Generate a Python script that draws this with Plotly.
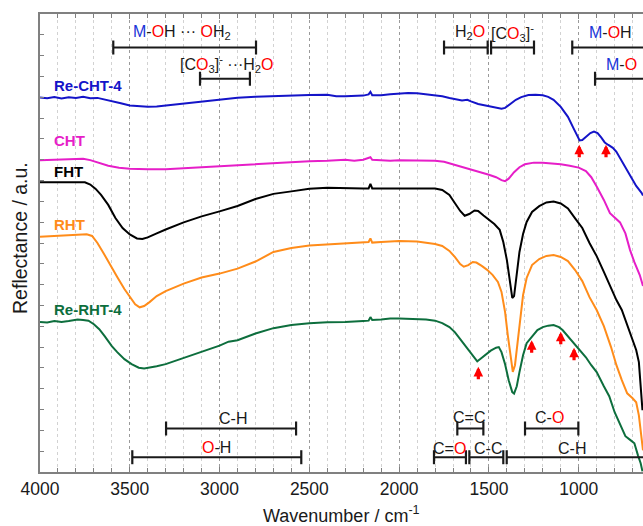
import plotly.graph_objects as go

FONT = "Liberation Sans, Arial, sans-serif"

# ---------------- spectra (wavenumber / cm-1, reflectance in a.u., offset) ----------------
wn_recht4 = [4000, 3960, 3920, 3880, 3840, 3800, 3760, 3720, 3680, 3640, 3600, 3550, 3500, 3450,
             3400, 3350, 3300, 3200, 3100, 3000, 2900, 2800, 2700, 2600, 2500, 2400, 2350, 2300,
             2250, 2200, 2170, 2160, 2150, 2100, 2050, 2000, 1950, 1900, 1850, 1800, 1760, 1720,
             1680, 1650, 1620, 1600, 1560, 1520, 1480, 1450, 1430, 1410, 1380, 1350, 1320, 1280,
             1240, 1200, 1170, 1140, 1100, 1060, 1030, 1010, 995, 980, 960, 935, 915, 895, 875,
             855, 835, 810, 790, 770, 740, 710, 680, 650, 642]
r_recht4 = [17.99, 17.95, 18.01, 17.94, 18.00, 17.97, 18.02, 17.95, 17.97, 17.90, 17.83, 17.71,
            17.61, 17.56, 17.54, 17.56, 17.61, 17.71, 17.80, 17.90, 17.98, 18.02, 18.06, 18.09,
            18.11, 18.12, 18.05, 18.05, 18.07, 18.08, 18.14, 18.26, 18.10, 18.10, 18.14, 18.19,
            18.21, 18.19, 18.14, 18.11, 18.05, 17.97, 17.90, 17.85, 17.88, 17.80, 17.68, 17.61,
            17.56, 17.49, 17.45, 17.49, 17.68, 17.88, 18.01, 18.11, 18.12, 18.10, 18.02, 17.88,
            17.54, 17.06, 16.53, 16.14, 15.93, 15.95, 16.11, 16.28, 16.35, 16.28, 16.07, 15.83,
            15.71, 15.57, 15.38, 15.09, 14.61, 14.17, 13.74, 13.41, 13.28]

wn_cht = [4000, 3900, 3800, 3760, 3720, 3680, 3620, 3560, 3500, 3400, 3300, 3200, 3100, 3000,
          2900, 2800, 2700, 2600, 2500, 2400, 2350, 2300, 2250, 2200, 2160, 2150, 2100, 2050,
          2000, 1900, 1800, 1750, 1700, 1650, 1600, 1550, 1500, 1460, 1430, 1410, 1390, 1360,
          1330, 1300, 1250, 1200, 1150, 1100, 1050, 1000, 960, 930, 900, 860, 826, 790, 770,
          740, 714, 690, 660, 642]
r_cht = [14.98, 15.01, 15.03, 15.05, 14.98, 14.86, 14.71, 14.62, 14.57, 14.54, 14.54, 14.59,
         14.64, 14.69, 14.73, 14.78, 14.83, 14.88, 14.93, 14.95, 14.98, 15.00, 14.95, 15.00,
         15.12, 15.00, 14.98, 14.95, 14.98, 14.98, 14.95, 14.90, 14.78, 14.64, 14.52, 14.40,
         14.28, 14.16, 14.02, 13.97, 14.09, 14.40, 14.64, 14.78, 14.86, 14.85, 14.83, 14.78,
         14.71, 14.62, 14.45, 14.16, 13.71, 13.07, 12.43, 12.15, 11.99, 11.46, 10.66, 10.08,
         9.46, 8.93]

wn_fht = [4000, 3900, 3800, 3750, 3720, 3690, 3660, 3620, 3580, 3540, 3500, 3460, 3430, 3400,
          3350, 3300, 3200, 3100, 3000, 2900, 2800, 2700, 2600, 2500, 2400, 2300, 2200, 2170,
          2160, 2150, 2100, 2050, 2000, 1900, 1800, 1760, 1720, 1690, 1660, 1635, 1610, 1580,
          1560, 1530, 1500, 1470, 1440, 1420, 1400, 1385, 1370, 1360, 1345, 1330, 1310, 1290,
          1260, 1220, 1180, 1140, 1100, 1060, 1020, 980, 940, 900, 860, 820, 790, 760, 730,
          700, 680, 665, 655, 645]
r_fht = [13.92, 13.92, 13.93, 13.92, 13.81, 13.60, 13.31, 12.83, 12.20, 11.72, 11.41, 11.22,
         11.19, 11.27, 11.46, 11.65, 11.99, 12.28, 12.52, 12.78, 13.11, 13.36, 13.48, 13.60,
         13.65, 13.62, 13.62, 13.62, 13.84, 13.62, 13.62, 13.65, 13.65, 13.64, 13.62, 13.55,
         13.31, 12.92, 12.54, 12.31, 12.39, 12.56, 12.54, 12.32, 12.13, 11.91, 11.63, 11.05,
         10.18, 9.22, 8.36, 8.45, 9.41, 10.57, 11.43, 12.01, 12.49, 12.77, 12.95, 12.99, 12.90,
         12.66, 12.18, 11.72, 11.00, 10.37, 9.61, 8.84, 8.26, 7.78, 7.06, 6.34, 5.86, 5.28,
         4.17, 2.97]

wn_rht = [4000, 3900, 3800, 3740, 3710, 3680, 3650, 3610, 3570, 3530, 3500, 3470, 3445, 3420,
          3390, 3350, 3300, 3200, 3100, 3000, 2900, 2800, 2700, 2600, 2500, 2400, 2300, 2200,
          2170, 2160, 2150, 2100, 2050, 2000, 1900, 1800, 1760, 1720, 1690, 1660, 1640, 1615,
          1590, 1570, 1540, 1510, 1480, 1450, 1430, 1410, 1395, 1380, 1367, 1355, 1340, 1325,
          1310, 1290, 1260, 1220, 1180, 1140, 1100, 1060, 1020, 980, 940, 900, 860, 820, 790,
          760, 730, 700, 680, 665, 652, 642]
r_rht = [11.30, 11.34, 11.37, 11.42, 11.34, 11.00, 10.57, 9.94, 9.37, 8.79, 8.40, 8.06, 7.91,
         7.97, 8.16, 8.45, 8.69, 9.05, 9.34, 9.53, 9.77, 10.11, 10.57, 10.76, 10.88, 10.94,
         10.98, 11.05, 11.05, 11.22, 11.02, 11.05, 11.07, 11.10, 11.07, 10.95, 10.86, 10.62,
         10.33, 9.99, 9.86, 9.94, 10.09, 10.06, 9.90, 9.71, 9.47, 9.13, 8.65, 7.68, 6.58, 5.47,
         4.81, 5.13, 6.33, 7.39, 8.50, 9.32, 9.94, 10.23, 10.38, 10.42, 10.33, 10.13, 9.70,
         9.17, 8.40, 7.78, 7.01, 6.00, 5.13, 4.41, 3.78, 3.54, 3.35, 2.72, 1.77, 1.04]

wn_rerht4 = [4000, 3960, 3920, 3880, 3840, 3800, 3790, 3760, 3730, 3700, 3670, 3640, 3600, 3570,
             3530, 3490, 3450, 3420, 3390, 3350, 3300, 3200, 3100, 3000, 2950, 2900, 2800, 2700,
             2600, 2500, 2400, 2300, 2200, 2170, 2160, 2150, 2100, 2050, 2000, 1950, 1900, 1850,
             1800, 1760, 1720, 1690, 1660, 1630, 1600, 1580, 1565, 1550, 1520, 1490, 1460, 1445,
             1430, 1410, 1390, 1370, 1360, 1345, 1330, 1310, 1290, 1270, 1255, 1230, 1200, 1170,
             1140, 1110, 1090, 1070, 1040, 1015, 990, 960, 930, 900, 860, 830, 800, 770, 740,
             710, 690, 670, 655, 645]
r_rerht4 = [7.21, 7.18, 7.25, 7.20, 7.25, 7.30, 7.33, 7.30, 7.27, 7.10, 6.86, 6.53, 6.05, 5.76,
            5.42, 5.18, 5.01, 4.97, 5.01, 5.08, 5.18, 5.47, 5.76, 6.07, 6.26, 6.33, 6.65, 6.91,
            7.06, 7.15, 7.19, 7.20, 7.25, 7.27, 7.44, 7.30, 7.32, 7.37, 7.37, 7.36, 7.35, 7.32,
            7.27, 7.15, 6.96, 6.72, 6.38, 6.05, 5.71, 5.47, 5.32, 5.42, 5.61, 5.83, 5.97, 6.00,
            5.76, 5.18, 4.41, 3.84, 3.77, 4.12, 4.80, 5.61, 6.19, 6.41, 6.53, 6.82, 6.96, 7.03,
            7.06, 6.96, 6.82, 6.62, 6.33, 6.09, 5.85, 5.51, 5.13, 4.80, 4.12, 3.64, 2.87, 2.25,
            1.72, 1.52, 1.38, 0.80, 0.42, 0.03]

sample_names = ["Re-CHT-4", "CHT", "FHT", "RHT", "Re-RHT-4"]
sample_colors = ["#1414c8", "#e61ec8", "#000000", "#ff8c1a", "#0d6e3d"]
sample_wn = [wn_recht4, wn_cht, wn_fht, wn_rht, wn_rerht4]
sample_r = [r_recht4, r_cht, r_fht, r_rht, r_rerht4]
label_y = [18.55, 15.91, 14.43, 11.87, 7.81]

# band assignments: label text, bar start / end (cm-1), bar level, label position
RED = "#ff0000"
BLUE = "#1a35d8"


def o(t):
    return f'<span style="color:{RED}">{t}</span>'


def m(t):
    return f'<span style="color:{BLUE}">{t}</span>'


band_text = [
    m("M") + "-" + o("O") + "H ··· " + o("O") + "H<sub>2</sub>",
    "[C" + o("O") + "<sub>3</sub>]<sup>-</sup> ···H<sub>2</sub>" + o("O"),
    "H<sub>2</sub>" + o("O"),
    "[C" + o("O") + "<sub>3</sub>]<sup>-</sup>",
    m("M") + "-" + o("O") + "H",
    m("M") + "-" + o("O"),
    "C-H",
    "C=C",
    "C-" + o("O"),
    o("O") + "-H",
    "C=" + o("O"),
    "C-C",
    "C-H",
]
band_start = [3592, 3109, 1750, 1488, 1036, 909, 3298, 1676, 1299, 3486, 1806, 1609, 1401]
band_end = [2797, 2831, 1507, 1249, 400, 400, 2574, 1531, 1002, 2545, 1628, 1420, 400]
band_bar_y = [20.39, 18.89, 20.39, 20.39, 20.39, 18.89, 2.09, 2.09, 2.09, 0.71, 0.71, 0.71, 0.71]
band_text_x = [3211, 2960, 1608, 1370, 823, 763, 2924, 1609, 1160, 3016, 1717, 1503, 1039]
band_text_y = [21.10, 19.58, 21.10, 21.10, 21.10, 19.58, 2.58, 2.62, 2.62, 1.18, 1.15, 1.15, 1.15]

# marked features (wavenumber, arrow tip level)
arrow_wn = [997, 848, 1559, 1262, 1100, 1026]
arrow_tip = [15.72, 15.72, 5.05, 6.33, 6.74, 5.97]

fig = go.Figure()

for name, col, xs, ys in zip(sample_names, sample_colors, sample_wn, sample_r):
    fig.add_trace(go.Scatter(x=xs, y=ys, mode="lines", name=name,
                             line=dict(color=col, width=2), showlegend=False))

for x0, x1, yb in zip(band_start, band_end, band_bar_y):
    fig.add_trace(go.Scatter(
        x=[x0, x1], y=[yb, yb], mode="lines+markers", showlegend=False, hoverinfo="skip",
        line=dict(color="#1a1a1a", width=2),
        marker=dict(symbol="line-ns", size=10, line=dict(width=2.2, color="#1a1a1a"))))

annotations = []
for name, col, yl in zip(sample_names, sample_colors, label_y):
    annotations.append(dict(x=3933, y=yl, text=f"<b>{name}</b>", showarrow=False,
                            xanchor="left", yanchor="middle",
                            font=dict(family=FONT, size=15, color=col)))

for t, xt, yt in zip(band_text, band_text_x, band_text_y):
    annotations.append(dict(x=xt, y=yt, text=t, showarrow=False, xanchor="center",
                            yanchor="middle", font=dict(family=FONT, size=16, color="#1a1a1a")))

for xa, ya in zip(arrow_wn, arrow_tip):
    annotations.append(dict(x=xa, y=ya, text="", showarrow=True, ax=0, ay=14,
                            arrowhead=2, arrowsize=0.6, arrowwidth=3.2, arrowcolor=RED,
                            standoff=0))

annotations.append(dict(xref="paper", yref="paper", x=-20 / 603, y=0.511,
                        text="Reflectance / a.u.", showarrow=False, textangle=-90,
                        xanchor="center", yanchor="middle",
                        font=dict(family=FONT, size=19.5, color="#1a1a1a")))
annotations.append(dict(xref="paper", yref="paper", x=0.5, y=-42 / 457.4,
                        text="Wavenumber / cm<sup>-1</sup>", showarrow=False,
                        xanchor="center", yanchor="middle",
                        font=dict(family=FONT, size=18, color="#1a1a1a")))

fig.update_layout(
    width=643, height=526,
    margin=dict(l=40, r=0, t=14, b=54),
    paper_bgcolor="white", plot_bgcolor="white",
    font=dict(family=FONT, color="#1a1a1a"),
    annotations=annotations,
    xaxis=dict(
        range=[4000, 642], autorange=False, tick0=0, dtick=500,
        ticks="inside", ticklen=5, tickwidth=1, tickcolor="#808080",
        showline=True, linecolor="#808080", linewidth=1.5, mirror="ticks",
        showgrid=True, gridcolor="#9a9a9a", gridwidth=1, griddash="dot",
        zeroline=False,
        tickfont=dict(family=FONT, size=17.5, color="#1a1a1a"),
        minor=dict(dtick=100, ticks="inside", ticklen=4, tickcolor="#808080",
                   showgrid=True, gridcolor="#d2d2d2", griddash="dot", gridwidth=1),
    ),
    yaxis=dict(
        range=[0, 22], autorange=False, tick0=0, dtick=1,
        ticks="inside", ticklen=4, tickcolor="#808080",
        showticklabels=False, showline=True, linecolor="#808080", linewidth=1.5,
        mirror=False, showgrid=False, zeroline=False,
    ),
)

fig.write_html("out.html")
